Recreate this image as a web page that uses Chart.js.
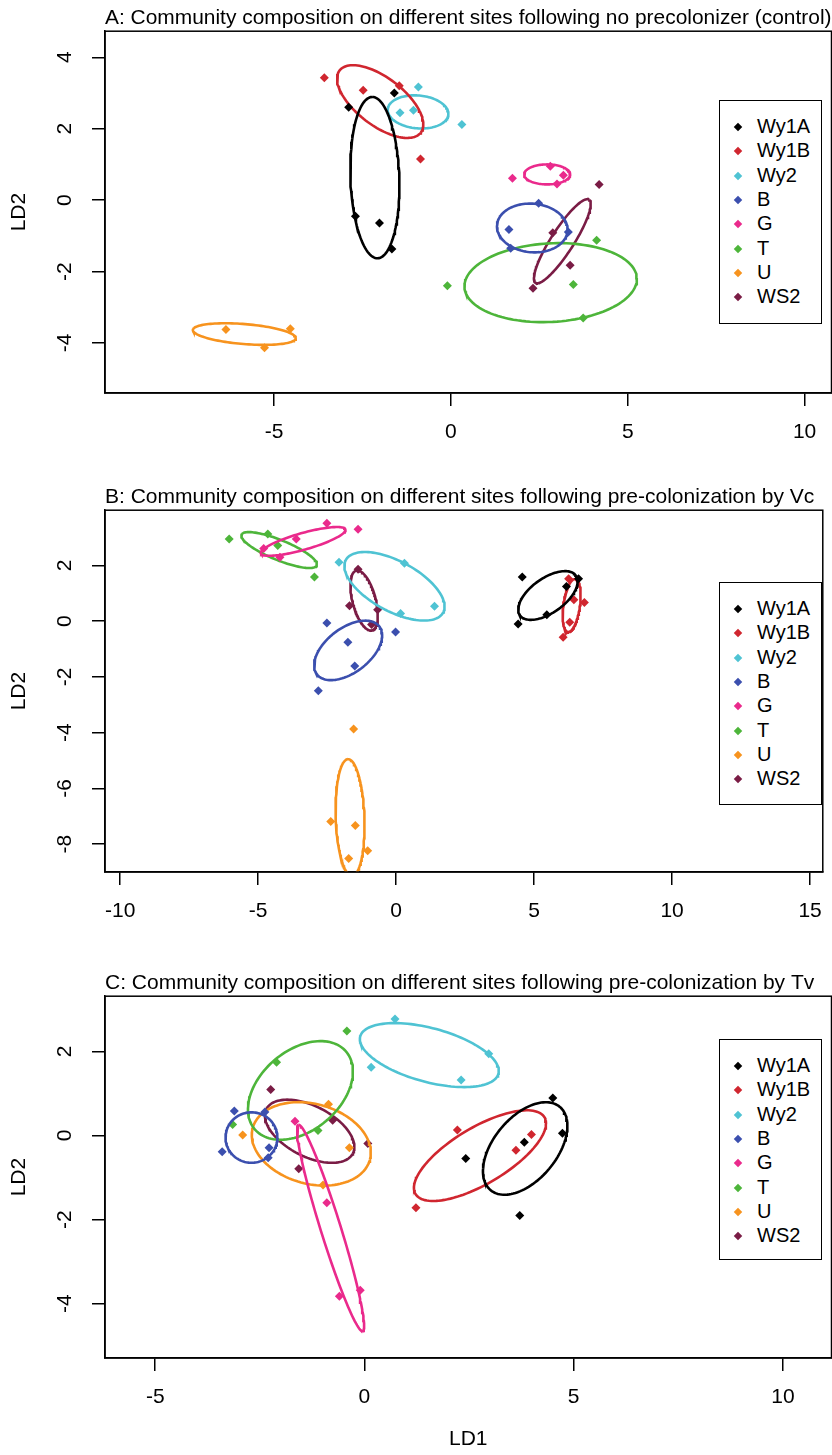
<!DOCTYPE html>
<html>
<head>
<meta charset="utf-8">
<script src="https://cdn.jsdelivr.net/npm/chart.js@4.4.1/dist/chart.umd.min.js"></script>
<style>
    body { margin: 0; background: #fff; width: 832px; height: 1455px; overflow: hidden; position: relative; }
    .panel { position: absolute; left: 0; }
    .legend { position: absolute; left: 719px; width: 101px; border: 1.5px solid #000; background: #fff; }
    .legend .row { position: absolute; left: 0; height: 24px; line-height: 24px; font: 20px "Liberation Sans", Arial, sans-serif; color: #000; }
    .legend .mark { position: absolute; left: 15px; top: 9px; width: 6px; height: 6px; transform: rotate(45deg); }
    .legend .txt { position: absolute; left: 37px; top: 0; white-space: nowrap; }
</style>
</head>
<body>
<canvas id="chart-a" class="panel" width="836" height="470" style="top:0px"></canvas>
<canvas id="chart-b" class="panel" width="836" height="480" style="top:479px"></canvas>
<canvas id="chart-c" class="panel" width="836" height="490" style="top:965px"></canvas>
<div id="legend-a" class="legend" style="top:100px;height:222px"></div>
<div id="legend-b" class="legend" style="top:582px;height:221px"></div>
<div id="legend-c" class="legend" style="top:1039px;height:219px"></div>
<script>
var groups = ["Wy1A", "Wy1B", "Wy2", "B", "G", "T", "U", "WS2"];
var groupColors = ["#000000", "#d0262f", "#4fc3d3", "#3b4fae", "#ea2a8c", "#4db53a", "#f7931e", "#7a1c45"];

var titleA = "A: Community composition on different sites following no precolonizer (control)";
var titleB = "B: Community composition on different sites following pre-colonization by Vc";
var titleC = "C: Community composition on different sites following pre-colonization by Tv";

var xTicksA = [-5, 0, 5, 10];
var yTicksA = [-4, -2, 0, 2, 4];
var xTicksB = [-10, -5, 0, 5, 10, 15];
var yTicksB = [-8, -6, -4, -2, 0, 2];
var xTicksC = [-5, 0, 5, 10];
var yTicksC = [-4, -2, 0, 2];

var xRangeA = [-9.78, 10.76], yRangeA = [-5.4, 4.73];
var xRangeB = [-10.55, 15.46], yRangeB = [-9.0, 3.98];
var xRangeC = [-6.2, 11.16], yRangeC = [-5.29, 3.31];

// LD1/LD2 scores, one list per group (same order as groups)
var pointsA = [
    [[-2.89, 2.6], [-1.6, 3.0], [-2.7, -0.45], [-2.02, -0.64], [-1.67, -1.37]],
    [[-3.58, 3.43], [-2.48, 3.08], [-1.46, 3.2], [-0.86, 1.15]],
    [[-0.92, 3.17], [-1.44, 2.45], [-1.06, 2.52], [0.31, 2.12]],
    [[1.64, -0.82], [2.48, -0.09], [3.32, -0.89], [1.69, -1.35]],
    [[1.74, 0.61], [2.81, 0.95], [3.18, 0.7], [3.0, 0.45]],
    [[-0.1, -2.4], [4.12, -1.12], [3.46, -2.36], [3.74, -3.3]],
    [[-6.36, -3.62], [-4.54, -3.6], [-5.27, -4.13]],
    [[4.19, 0.44], [2.88, -0.91], [3.37, -1.82], [2.32, -2.47]]
];
// ellipses: centre x, centre y, semi-major, semi-minor, angle (deg)
var ellipsesA = [
    [-2.15, 0.63, 2.26, 0.69, 92],
    [-2.0, 2.76, 1.44, 0.67, -37],
    [-0.93, 2.47, 0.86, 0.46, -5],
    [2.3, -0.78, 1.0, 0.68, -5],
    [2.72, 0.72, 0.65, 0.28, 0],
    [2.82, -2.31, 2.44, 1.1, 3],
    [-5.84, -3.75, 1.46, 0.28, -4.6],
    [3.15, -1.15, 1.39, 0.32, 57]
];

var pointsB = [
    [[4.57, 1.58], [4.42, -0.1], [5.46, 0.23], [6.61, 1.52], [6.17, 1.24]],
    [[6.25, 1.52], [6.44, 0.77], [6.82, 0.67], [6.29, -0.04], [6.05, -0.58]],
    [[-2.07, 2.11], [0.3, 2.08], [1.39, 0.53], [0.16, 0.27]],
    [[-2.51, -0.07], [-0.02, -0.39], [-1.75, -0.76], [-1.5, -1.61], [-2.82, -2.5]],
    [[-2.51, 3.51], [-1.38, 3.3], [-3.62, 2.95], [-4.8, 2.61], [-4.21, 2.29]],
    [[-6.05, 2.95], [-4.65, 3.13], [-4.29, 2.71], [-2.96, 1.58]],
    [[-1.54, -3.87], [-2.37, -7.19], [-1.48, -7.33], [-1.03, -8.24], [-1.72, -8.52]],
    [[-1.38, 1.86], [-1.69, 0.55], [-0.67, 0.41], [-0.89, -0.12]]
];
var ellipsesB = [
    [5.5, 0.92, 1.24, 0.62, 35],
    [6.36, 0.56, 0.96, 0.3, 82],
    [-0.06, 1.25, 2.0, 0.9, -28],
    [-1.74, -1.05, 1.42, 0.8, 37],
    [-3.37, 2.86, 1.59, 0.3, 15.6],
    [-4.24, 2.55, 1.47, 0.36, -22],
    [-1.67, -7.05, 2.1, 0.52, 92],
    [-1.16, 0.74, 1.11, 0.42, 105]
];

var pointsC = [
    [[4.5, 0.89], [4.73, 0.05], [3.82, -0.16], [2.42, -0.55], [3.71, -1.9]],
    [[2.22, 0.13], [3.62, -0.35], [3.99, 0.02], [1.23, -1.72]],
    [[0.73, 2.77], [0.16, 1.62], [2.97, 1.94], [2.31, 1.32]],
    [[-3.11, 0.58], [-2.38, 0.56], [-3.4, -0.39], [-2.28, -0.29], [-2.3, -0.53]],
    [[-1.66, 0.34], [-0.9, -1.6], [-0.6, -3.82], [-0.1, -3.68]],
    [[-0.42, 2.48], [-2.1, 1.74], [-1.11, 0.12], [-3.15, 0.26]],
    [[-2.91, 0.01], [-0.86, 0.74], [-0.36, -0.29], [-0.99, -1.18]],
    [[-2.24, 1.09], [-0.76, 0.36], [0.08, -0.19], [-1.57, -0.79]]
];
var ellipsesC = [
    [3.84, -0.31, 1.29, 0.75, 50],
    [2.76, -0.48, 1.79, 0.67, 30.6],
    [1.55, 1.91, 1.71, 0.64, -15],
    [-2.7, -0.05, 0.62, 0.6, 0],
    [-0.81, -2.2, 2.57, 0.24, 107.4],
    [-1.53, 1.07, 1.43, 0.95, 40],
    [-1.27, -0.2, 1.45, 0.95, -15],
    [-1.31, 0.1, 1.16, 0.6, -27]
];

var fontFamily = '"Liberation Sans", Arial, sans-serif';

// outline of an ellipse in data units
function ellipsePath(e) {
    var pts = [];
    var t = e[4] * Math.PI / 180;
    for (var i = 0; i <= 120; i++) {
        var u = i / 120 * 2 * Math.PI;
        var dx = e[2] * Math.cos(u);
        var dy = e[3] * Math.sin(u);
        pts.push({ x: e[0] + dx * Math.cos(t) - dy * Math.sin(t), y: e[1] + dx * Math.sin(t) + dy * Math.cos(t) });
    }
    return pts;
}

var boxPlugin = {
    id: 'box',
    afterDraw: function(chart) {
        var a = chart.chartArea;
        var ctx = chart.ctx;
        ctx.save();
        ctx.strokeStyle = '#000';
        ctx.lineWidth = 1.5;
        ctx.strokeRect(a.left, a.top, a.right - a.left, a.bottom - a.top);
        ctx.restore();
    }
};

function panel(id, title, points, ellipses, xRange, yRange, xTicks, yTicks, xTitle) {
    var canvas = document.getElementById(id);
    var datasets = [];
    for (var g = 0; g < groups.length; g++) {
        datasets.push({
            label: groups[g] + ' ellipse',
            data: ellipsePath(ellipses[g]),
            showLine: true,
            borderColor: groupColors[g],
            borderWidth: 2.6,
            pointRadius: 0,
            fill: false
        });
        datasets.push({
            label: groups[g],
            data: points[g].map(function(p) { return { x: p[0], y: p[1] }; }),
            pointStyle: 'rectRot',
            pointRadius: 4.5,
            backgroundColor: groupColors[g],
            borderColor: groupColors[g],
            borderWidth: 0
        });
    }
    var axisHeight = canvas.height - 393;
    return new Chart(canvas, {
        type: 'scatter',
        data: { datasets: datasets },
        options: {
            responsive: false,
            animation: false,
            devicePixelRatio: 1,
            layout: { padding: 0 },
            plugins: {
                legend: { display: false },
                tooltip: { enabled: false },
                title: {
                    display: true,
                    text: title,
                    align: 'start',
                    fullSize: false,
                    color: '#000',
                    font: { family: fontFamily, size: 21, weight: 'normal' },
                    padding: { top: 6, bottom: 0 }
                }
            },
            scales: {
                x: {
                    type: 'linear',
                    min: xRange[0],
                    max: xRange[1],
                    afterBuildTicks: function(s) { s.ticks = xTicks.map(function(v) { return { value: v }; }); },
                    afterFit: function(s) { s.height = axisHeight; },
                    ticks: { color: '#000', padding: 14, maxRotation: 0, autoSkip: false, font: { family: fontFamily, size: 21 } },
                    grid: { drawOnChartArea: false, drawTicks: true, tickLength: 13, color: '#000', lineWidth: 1.5 },
                    border: { display: true, color: '#000', width: 1.5 },
                    title: { display: !!xTitle, text: xTitle, color: '#000', font: { family: fontFamily, size: 21 }, padding: { bottom: 3 } }
                },
                y: {
                    type: 'linear',
                    min: yRange[0],
                    max: yRange[1],
                    afterBuildTicks: function(s) { s.ticks = yTicks.map(function(v) { return { value: v }; }); },
                    afterFit: function(s) { s.width = 105; },
                    ticks: { color: '#000', padding: 17, minRotation: 90, maxRotation: 90, crossAlign: 'center', autoSkip: false, font: { family: fontFamily, size: 21 } },
                    grid: { drawOnChartArea: false, drawTicks: true, tickLength: 13, color: '#000', lineWidth: 1.5 },
                    border: { display: true, color: '#000', width: 1.5 },
                    title: { display: true, text: 'LD2', color: '#000', font: { family: fontFamily, size: 21 }, padding: { top: 7 } }
                }
            }
        },
        plugins: [boxPlugin]
    });
}

function legend(id) {
    var box = document.getElementById(id);
    for (var g = 0; g < groups.length; g++) {
        var row = document.createElement('div');
        row.className = 'row';
        row.style.top = (14 + g * 24.3) + 'px';
        row.style.width = '100%';
        row.innerHTML = '<span class="mark" style="background:' + groupColors[g] + '"></span><span class="txt">' + groups[g] + '</span>';
        box.appendChild(row);
    }
}

panel('chart-a', titleA, pointsA, ellipsesA, xRangeA, yRangeA, xTicksA, yTicksA, '');
panel('chart-b', titleB, pointsB, ellipsesB, xRangeB, yRangeB, xTicksB, yTicksB, '');
panel('chart-c', titleC, pointsC, ellipsesC, xRangeC, yRangeC, xTicksC, yTicksC, 'LD1');
legend('legend-a');
legend('legend-b');
legend('legend-c');
</script>
</body>
</html>
